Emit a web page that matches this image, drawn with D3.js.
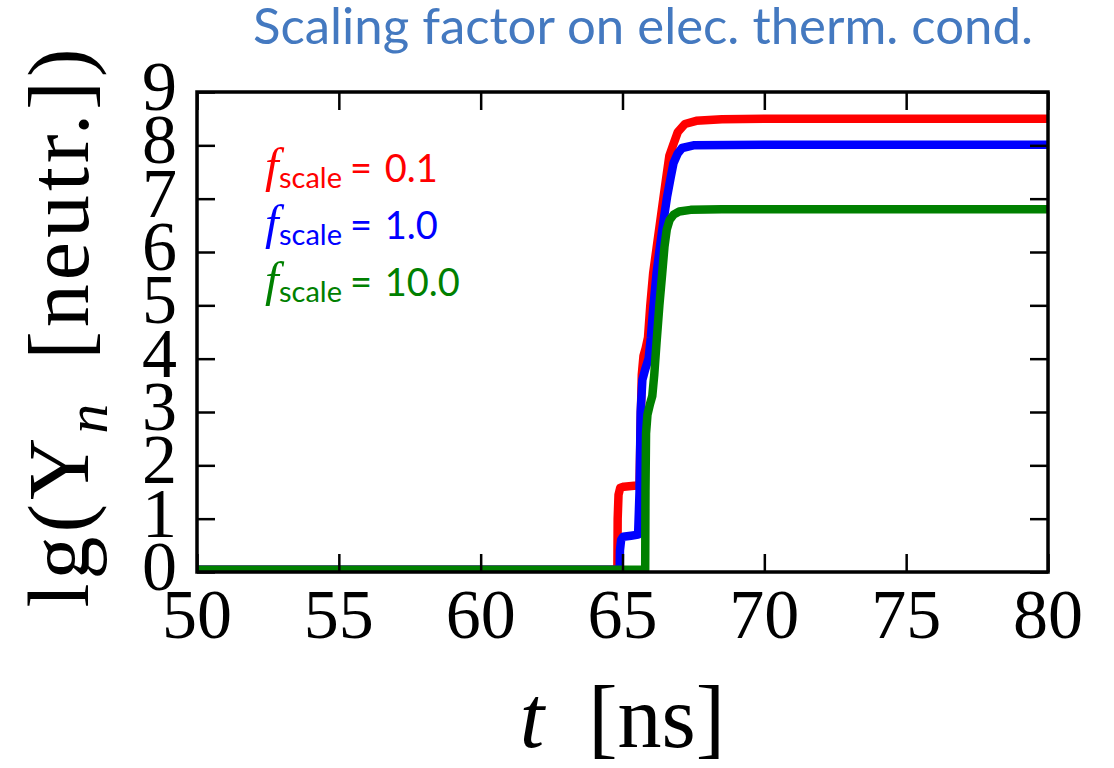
<!DOCTYPE html>
<html>
<head>
<meta charset="utf-8">
<script src="https://cdn.jsdelivr.net/npm/d3@7"></script>
<style>
  html, body { margin: 0; padding: 0; background: #ffffff; }
  svg { display: block; }
</style>
</head>
<body>
<svg id="chart" width="1114" height="768"></svg>
<script>
// Neutron yield vs. time for three scaling factors of the electron thermal conductivity
const xTicks = [50, 55, 60, 65, 70, 75, 80];
const yTicks = [0, 1, 2, 3, 4, 5, 6, 7, 8, 9];

const redT = [50, 64.82, 64.83, 64.86, 64.92, 65.05, 65.5, 65.60, 65.64, 65.68, 65.74, 65.82, 65.90, 65.98, 66.08, 66.20, 66.35, 66.53, 66.65, 66.78, 66.95, 67.2, 67.6, 68.5, 70, 80];
const redY = [0.04, 0.04, 1.0, 1.45, 1.58, 1.60, 1.62, 1.63, 2.8, 3.7, 4.05, 4.2, 4.4, 5.0, 5.6, 6.07, 6.65, 7.35, 7.8, 8.0, 8.25, 8.4, 8.46, 8.49, 8.5, 8.5];

const blueT = [50, 64.90, 64.91, 64.95, 65.02, 65.3, 65.55, 65.60, 65.64, 65.70, 65.80, 65.92, 66.0, 66.07, 66.2, 66.32, 66.45, 66.57, 66.7, 66.8, 66.95, 67.1, 67.5, 70, 80];
const blueY = [0.04, 0.04, 0.4, 0.6, 0.66, 0.68, 0.70, 1.5, 3.0, 3.6, 3.8, 4.0, 4.4, 4.86, 5.6, 6.1, 6.6, 7.03, 7.4, 7.67, 7.85, 7.95, 8.0, 8.01, 8.01];

const greenT = [50, 65.80, 65.81, 65.83, 65.88, 65.97, 66.05, 66.12, 66.2, 66.3, 66.4, 66.48, 66.56, 66.66, 66.8, 67.0, 67.4, 68.5, 80];
const greenY = [0.04, 0.04, 1.5, 2.6, 2.95, 3.15, 3.3, 3.7, 4.3, 5.0, 5.6, 6.1, 6.42, 6.6, 6.7, 6.76, 6.79, 6.8, 6.8];

const seriesNames = ["0.1", "1.0", "10.0"];
const seriesColors = ["#ff0000", "#0000ff", "#008000"];

const svg = d3.select("#chart");
const W = 1114, H = 768;
const plot = { left: 197, right: 1048, top: 92, bottom: 572 };

svg.append("rect").attr("width", W).attr("height", H).attr("fill", "#ffffff");

const x = d3.scaleLinear().domain([50, 80]).range([plot.left, plot.right]);
const y = d3.scaleLinear().domain([0, 9]).range([plot.bottom, plot.top]);

svg.append("defs").append("clipPath").attr("id", "plotclip")
  .append("rect")
  .attr("x", plot.left).attr("y", plot.top)
  .attr("width", plot.right - plot.left).attr("height", plot.bottom - plot.top);

// curves
const line = d3.line().x(d => x(d[0])).y(d => y(d[1])).curve(d3.curveLinear);
const series = [
  { t: redT, v: redY, color: seriesColors[0] },
  { t: blueT, v: blueY, color: seriesColors[1] },
  { t: greenT, v: greenY, color: seriesColors[2] }
];
const gLines = svg.append("g").attr("clip-path", "url(#plotclip)");
series.forEach(s => {
  gLines.append("path")
    .datum(s.t.map((t, i) => [t, s.v[i]]))
    .attr("d", line)
    .attr("fill", "none")
    .attr("stroke", s.color)
    .attr("stroke-width", 8.5)
    .attr("stroke-linejoin", "round")
    .attr("stroke-linecap", "butt");
});

// inward ticks on all four sides
const tickLen = 18;
const tickStyle = sel => sel.call(g => g.select(".domain").remove())
  .call(g => g.selectAll(".tick line").attr("stroke", "#000").attr("stroke-width", 2.5))
  .call(g => g.selectAll(".tick text").remove());

svg.append("g").attr("transform", `translate(0,${plot.bottom})`)
  .call(d3.axisTop(x).tickValues(xTicks).tickSize(tickLen)).call(tickStyle);
svg.append("g").attr("transform", `translate(0,${plot.top})`)
  .call(d3.axisBottom(x).tickValues(xTicks).tickSize(tickLen)).call(tickStyle);
svg.append("g").attr("transform", `translate(${plot.left},0)`)
  .call(d3.axisRight(y).tickValues(yTicks).tickSize(tickLen)).call(tickStyle);
svg.append("g").attr("transform", `translate(${plot.right},0)`)
  .call(d3.axisLeft(y).tickValues(yTicks).tickSize(tickLen)).call(tickStyle);

// frame
svg.append("rect")
  .attr("x", plot.left).attr("y", plot.top)
  .attr("width", plot.right - plot.left).attr("height", plot.bottom - plot.top)
  .attr("fill", "none").attr("stroke", "#000").attr("stroke-width", 3.5);

// tick labels
const serif = "'Liberation Serif', 'Times New Roman', serif";
svg.append("g").selectAll("text").data(xTicks).join("text")
  .attr("x", d => x(d)).attr("y", 638)
  .attr("text-anchor", "middle")
  .attr("font-family", serif).attr("font-size", 70).attr("fill", "#000")
  .text(d => d);
svg.append("g").selectAll("text").data(yTicks).join("text")
  .attr("x", 177).attr("y", d => y(d) + 18)
  .attr("text-anchor", "end")
  .attr("font-family", serif).attr("font-size", 70).attr("fill", "#000")
  .text(d => d);

// axis titles
const xl = svg.append("text")
  .attr("x", (plot.left + plot.right) / 2).attr("y", 747)
  .attr("text-anchor", "middle")
  .attr("font-family", serif).attr("font-size", 88).attr("fill", "#000");
xl.append("tspan").attr("font-style", "italic").text("t");
xl.append("tspan").attr("dx", 44).text("[ns]");

const yl = svg.append("text")
  .attr("transform", `translate(88,${(plot.top + plot.bottom) / 2 - 6}) rotate(-90)`)
  .attr("text-anchor", "middle")
  .attr("font-family", serif).attr("font-size", 86).attr("fill", "#000")
  .attr("letter-spacing", 4);
yl.append("tspan").text("lg(Y");
yl.append("tspan").attr("font-style", "italic").attr("font-size", 60).attr("dy", 19).text("n");
yl.append("tspan").attr("dy", -19).attr("dx", 40).text("[neutr.])");

// legend
const sans = "Lato, 'Open Sans', sans-serif";
const legBase = [182, 239, 296];
seriesNames.forEach((name, i) => {
  const g = svg.append("g").attr("fill", seriesColors[i]);
  g.append("text").attr("x", 265).attr("y", legBase[i])
    .attr("font-family", serif).attr("font-style", "italic").attr("font-size", 49)
    .text("f");
  g.append("text").attr("x", 279).attr("y", legBase[i] + 6)
    .attr("font-family", sans).attr("font-size", 29)
    .text("scale");
  g.append("text").attr("x", 350).attr("y", legBase[i])
    .attr("font-family", sans).attr("font-size", 38)
    .attr("word-spacing", 3)
    .text("= " + name);
});

// title
svg.append("text")
  .attr("x", 253).attr("y", 44)
  .attr("font-family", sans).attr("font-size", 51)
  .attr("fill", "#4479c0")
  .attr("textLength", 780).attr("lengthAdjust", "spacingAndGlyphs")
  .text("Scaling factor on elec. therm. cond.");
</script>
</body>
</html>
